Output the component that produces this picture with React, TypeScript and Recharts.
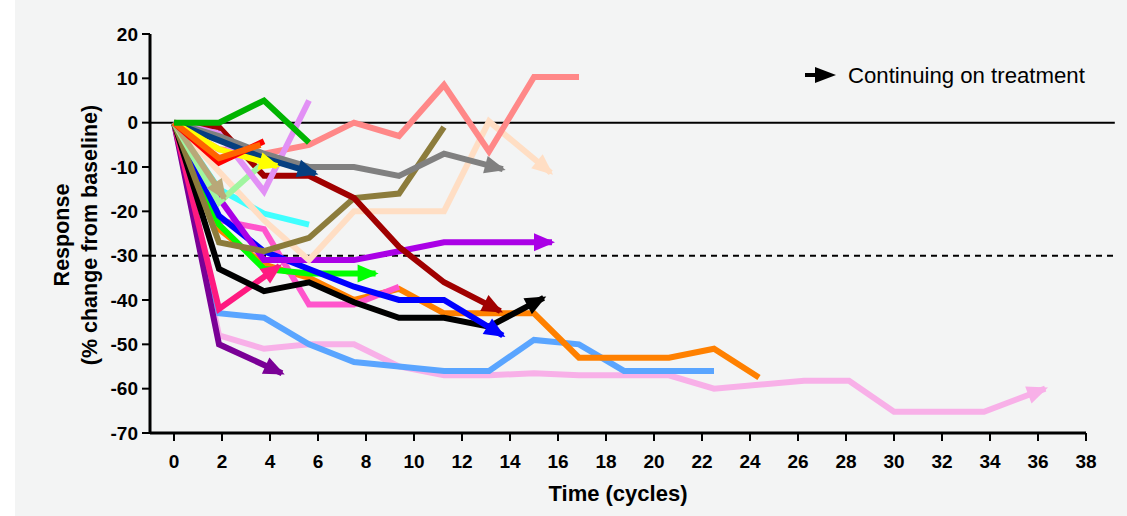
import React from 'react';
import { LineChart, Line, XAxis, YAxis, ReferenceLine } from 'recharts';

const xTicks = [0, 2, 4, 6, 8, 10, 12, 14, 16, 18, 20, 22, 24, 26, 28, 30, 32, 34, 36, 38];
const yTicks = [-70, -60, -50, -40, -30, -20, -10, 0, 10, 20];

// each patient: scan times (cycles) and % change; arrow tip = last point
const lightPinkT = [0, 1.875, 3.75, 5.625, 7.5, 9.375, 11.25, 13.125, 15, 16.875, 18.75, 20.625, 22.5, 26.25, 28.125, 30, 33.75, 36.3];
const lightPinkV = [0, -48, -51, -50, -50, -55, -57, -57, -56.5, -57, -57, -57, -60, -58.2, -58.2, -65.2, -65.2, -60];
const lightBlueT = [0, 1.875, 3.75, 5.625, 7.5, 9.375, 11.25, 13.125, 15, 16.875, 18.75, 20.625, 22.5];
const lightBlueV = [0, -43, -44, -50, -54, -55, -56, -56, -49, -50, -56, -56, -56];
const darkPurpleT = [0, 1.875, 4.5];
const darkPurpleV = [0, -50, -56.5];
const orangeT = [0, 1.875, 3.75, 5.625, 7.5, 9.375, 11.25, 13.125, 15, 16.875, 18.75, 20.625, 22.5, 24.375];
const orangeV = [0, -24, -32, -35, -40, -37.5, -43, -43, -43, -53, -53, -53, -51, -57.5];
const deepPinkT = [0, 1.875, 4.4];
const deepPinkV = [0, -42, -32.3];
const hotPinkT = [0, 1.875, 3.75, 5.625, 7.5, 9.375];
const hotPinkV = [0, -22, -24, -41, -41, -37];
const blackT = [0, 1.875, 3.75, 5.625, 7.5, 9.375, 11.25, 13.125, 15.4];
const blackV = [0, -33, -38, -36, -40.5, -44, -44, -46, -39.5];
const brightGreenT = [0, 1.875, 3.75, 5.625, 7.5, 8.4];
const brightGreenV = [0, -23, -33, -34, -34, -34];
const blueT = [0, 1.875, 3.75, 5.625, 7.5, 9.375, 11.25, 13.7];
const blueV = [0, -21, -29, -33, -37, -40, -40, -48];
const purpleT = [0, 1.875, 3.75, 5.625, 7.5, 9.375, 11.25, 13.125, 15.75];
const purpleV = [0, -17, -31, -31, -31, -29, -27, -27, -27];
const cyanT = [0, 1.875, 3.75, 5.625];
const cyanV = [0, -15, -20.5, -23];
const peachT = [0, 1.875, 3.75, 5.625, 7.5, 9.375, 11.25, 13.125, 15.7];
const peachV = [0, -11, -22, -31, -20, -20, -20, 0.3, -11.3];
const oliveT = [0, 1.875, 3.75, 5.625, 7.5, 9.375, 11.25];
const oliveV = [0, -27, -29, -26, -17, -16, -1];
const salmonT = [0, 1.875, 3.75, 5.625, 7.5, 9.375, 11.25, 13.125, 15, 16.875];
const salmonV = [0, -6, -7, -5, 0, -3, 8.5, -6.5, 10.3, 10.3];
const darkRedT = [0, 1.875, 3.75, 5.625, 7.5, 9.375, 11.25, 13.6];
const darkRedV = [0, -1, -12, -12, -17, -28, -36, -42.5];
const lightGreenT = [0, 1.875, 3.6];
const lightGreenV = [0, -18, -9.7];
const tanT = [0, 2.1];
const tanV = [0, -17];
const lilacT = [0, 1.875, 3.75, 5.625];
const lilacV = [0, -2.5, -15.5, 5];
const grayT = [0, 1.875, 3.75, 5.625, 7.5, 9.375, 11.25, 13.7];
const grayV = [0, -3, -7, -10, -10, -12, -7, -10.5];
const navyT = [0, 1.875, 3.75, 5.9];
const navyV = [0, -4, -8, -11.5];
const yellowT = [0, 1.875, 4.3];
const yellowV = [0, -6, -9.8];
const redT = [0, 1.875, 3.75];
const redV = [0, -9, -4.2];
const orangeRedT = [0, 1.875, 3.6];
const orangeRedV = [0, -8, -5];
const greenT = [0, 1.875, 3.75, 5.625];
const greenV = [0, 0, 5, -4.5];

// drawing order: first = bottom
const series = [
  { id: 'lightPink', color: '#f8b0e8', t: lightPinkT, v: lightPinkV, arrow: true },
  { id: 'lightBlue', color: '#5aa5ff', t: lightBlueT, v: lightBlueV, arrow: false },
  { id: 'darkPurple', color: '#7a0096', t: darkPurpleT, v: darkPurpleV, arrow: true },
  { id: 'orange', color: '#ff8000', t: orangeT, v: orangeV, arrow: false },
  { id: 'deepPink', color: '#ff1a80', t: deepPinkT, v: deepPinkV, arrow: true },
  { id: 'hotPink', color: '#ff55cc', t: hotPinkT, v: hotPinkV, arrow: false },
  { id: 'black', color: '#000000', t: blackT, v: blackV, arrow: true },
  { id: 'brightGreen', color: '#00ff00', t: brightGreenT, v: brightGreenV, arrow: true },
  { id: 'blue', color: '#0000ff', t: blueT, v: blueV, arrow: true },
  { id: 'purple', color: '#aa00e6', t: purpleT, v: purpleV, arrow: true },
  { id: 'cyan', color: '#40ffff', t: cyanT, v: cyanV, arrow: false },
  { id: 'peach', color: '#ffdec4', t: peachT, v: peachV, arrow: true },
  { id: 'olive', color: '#8c7c3c', t: oliveT, v: oliveV, arrow: false },
  { id: 'salmon', color: '#ff8888', t: salmonT, v: salmonV, arrow: false },
  { id: 'darkRed', color: '#a00000', t: darkRedT, v: darkRedV, arrow: true },
  { id: 'lightGreen', color: '#a0f5a0', t: lightGreenT, v: lightGreenV, arrow: false },
  { id: 'tan', color: '#b8a878', t: tanT, v: tanV, arrow: true },
  { id: 'lilac', color: '#e290f5', t: lilacT, v: lilacV, arrow: false },
  { id: 'gray', color: '#808080', t: grayT, v: grayV, arrow: true },
  { id: 'navy', color: '#053f80', t: navyT, v: navyV, arrow: true },
  { id: 'yellow', color: '#ffff00', t: yellowT, v: yellowV, arrow: true },
  { id: 'red', color: '#ff0000', t: redT, v: redV, arrow: false },
  { id: 'orangeRed', color: '#ff6400', t: orangeRedT, v: orangeRedV, arrow: false },
  { id: 'green', color: '#00b400', t: greenT, v: greenV, arrow: false },
];

const FONT = '"Liberation Sans", Arial, Helvetica, sans-serif';

// arrowhead on the last point, pointing along the last segment
function arrowDot(color: string, last: number) {
  const seen: { x: number; y: number }[] = [];
  return (props: any) => {
    const { cx, cy, index } = props;
    seen[index] = { x: cx, y: cy };
    if (index !== last) return <g key={`d${index}`} />;
    const prev =
      Array.isArray(props.points) && props.points[index - 1]
        ? props.points[index - 1]
        : seen[index - 1];
    if (!prev) return <g key={`d${index}`} />;
    const ang = Math.atan2(cy - prev.y, cx - prev.x);
    const len = 21;
    const half = 9;
    // tip pushed a few px past the point so the thick stroke end stays hidden
    const tx = cx + 3 * Math.cos(ang);
    const ty = cy + 3 * Math.sin(ang);
    const bx = tx - len * Math.cos(ang);
    const by = ty - len * Math.sin(ang);
    const nx = -Math.sin(ang) * half;
    const ny = Math.cos(ang) * half;
    return (
      <polygon
        key={`d${index}`}
        points={`${tx},${ty} ${bx + nx},${by + ny} ${bx - nx},${by - ny}`}
        fill={color}
      />
    );
  };
}

const tickStyle = { fill: '#000', fontSize: 19, fontWeight: 700, fontFamily: FONT };

export default function App() {
  return (
    <div style={{ position: 'absolute', left: 0, top: 0, width: 1127, height: 516, background: '#fff' }}>
      <div style={{ position: 'absolute', left: 15, top: 0, width: 1112, height: 516, background: '#f3f4f4' }} />
      <div style={{ position: 'absolute', left: 0, top: 0 }}>
        <LineChart width={1127} height={516} margin={{ top: 34, right: 41, bottom: 53, left: 90 }}>
          <XAxis
            type="number"
            dataKey="t"
            domain={[-1, 38]}
            ticks={xTicks}
            interval={0}
            allowDecimals={false}
            height={30}
            tick={tickStyle}
            tickSize={8}
            tickMargin={14}
            axisLine={{ stroke: '#000', strokeWidth: 3 }}
            tickLine={{ stroke: '#000', strokeWidth: 2 }}
          />
          <YAxis
            type="number"
            domain={[-70, 20]}
            ticks={yTicks}
            interval={0}
            width={60}
            tick={tickStyle}
            tickSize={8}
            tickMargin={4}
            axisLine={{ stroke: '#000', strokeWidth: 3 }}
            tickLine={{ stroke: '#000', strokeWidth: 2 }}
          />
          <ReferenceLine
            segment={[{ x: -1, y: 0 }, { x: 39.2, y: 0 }]}
            stroke="#000"
            strokeWidth={2}
            ifOverflow="visible"
          />
          <ReferenceLine
            segment={[{ x: -1, y: -30 }, { x: 39.2, y: -30 }]}
            stroke="#000"
            strokeWidth={2}
            strokeDasharray="6 5"
            ifOverflow="visible"
          />
          {series.map((s) => (
            <Line
              key={s.id}
              data={s.t.map((t, i) => ({ t, v: s.v[i] }))}
              dataKey="v"
              type="linear"
              stroke={s.color}
              strokeWidth={6}
              strokeLinejoin="miter"
              dot={s.arrow ? arrowDot(s.color, s.t.length - 1) : false}
              activeDot={false}
              isAnimationActive={false}
            />
          ))}
        </LineChart>
      </div>
      <svg
        width={1127}
        height={516}
        style={{ position: 'absolute', left: 0, top: 0, pointerEvents: 'none' }}
        fontFamily={FONT}
      >
        <text x={62} y={235} transform="rotate(-90 62 235)" textAnchor="middle" dominantBaseline="central" fontSize={21.5} fontWeight={700} fill="#000">
          Response
        </text>
        <text x={90} y={235} transform="rotate(-90 90 235)" textAnchor="middle" dominantBaseline="central" fontSize={21.5} fontWeight={700} fill="#000">
          (% change from baseline)
        </text>
        <text x={618} y={493} textAnchor="middle" dominantBaseline="central" fontSize={22} fontWeight={700} fill="#000">
          Time (cycles)
        </text>
        <line x1={805} y1={75} x2={820} y2={75} stroke="#000" strokeWidth={4} />
        <polygon points="836,75 815,67 815,83" fill="#000" />
        <text x={848} y={75} dominantBaseline="central" fontSize={22.2} fill="#000">
          Continuing on treatment
        </text>
      </svg>
    </div>
  );
}
